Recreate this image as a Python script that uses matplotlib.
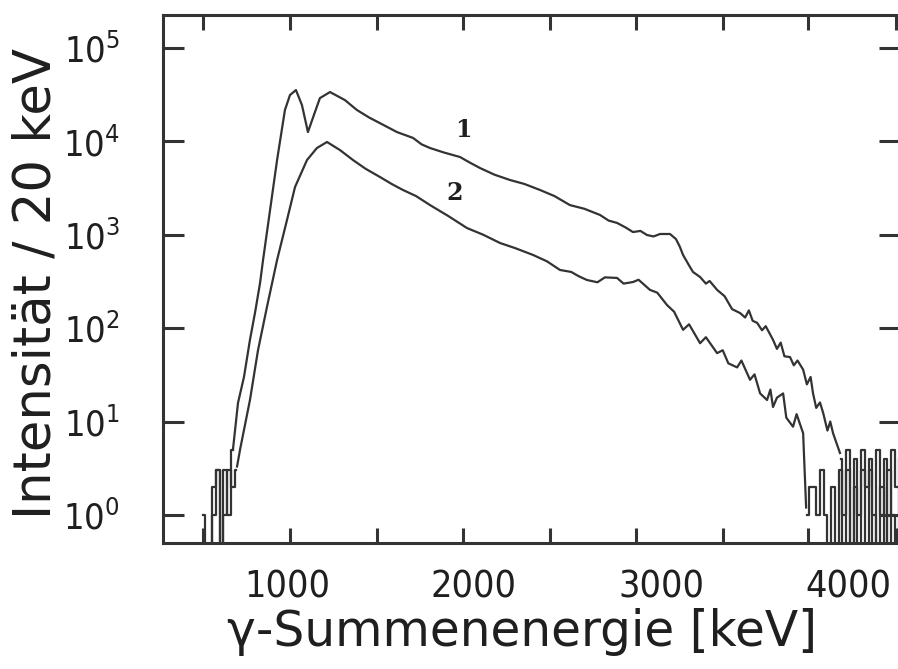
"""
Gamma sum-energy spectra (two runs) on a log intensity scale.
"""

import matplotlib

matplotlib.use("Agg")
import matplotlib.pyplot as plt
import matplotlib.ticker as mticker

# Spectrum 1 (upper curve): energy in keV, counts per 20 keV
energy_1 = [711, 738, 770, 802, 830, 856, 872, 947, 989, 1016, 1048, 1080,
            1112, 1144, 1176, 1230, 1310, 1374, 1440, 1497, 1588, 1674, 1720,
            1765, 1840, 1925, 1980, 2032, 2110, 2193, 2270, 2353, 2430, 2513,
            2590, 2674, 2720, 2765, 2810, 2850, 2890, 2925, 2960, 2995, 3048,
            3080, 3100, 3118, 3150, 3171, 3209, 3240, 3260, 3300, 3340, 3380,
            3423, 3450, 3470, 3490, 3514, 3540, 3560, 3599, 3620, 3640, 3660,
            3690, 3710, 3730, 3760, 3780, 3800, 3813, 3830, 3850, 3867, 3890,
            3905, 3920, 3957]
counts_1 = [5.0, 15.8, 30, 75, 150, 305, 537, 6320, 21700, 31400, 35500, 24500,
            12600, 19200, 29100, 33800, 27700, 21700, 18000, 15700, 12600,
            10900, 9300, 8500, 7600, 6810, 5900, 5190, 4400, 3860, 3500, 3020,
            2600, 2080, 1900, 1630, 1420, 1340, 1200, 1070, 1100, 995, 960,
            1020, 1020, 900, 750, 608, 470, 400, 353, 300, 320, 257, 220, 160,
            145, 130, 155, 120, 114, 95, 105, 75, 60, 70, 50, 49, 40, 45, 36, 25,
            30, 20, 14, 16, 12.4, 8, 10, 7.5, 4.6]

# Spectrum 2 (lower curve)
energy_2 = [733, 749, 802, 845, 893, 947, 1000, 1043, 1107, 1160, 1214, 1283,
            1353, 1420, 1497, 1560, 1620, 1690, 1765, 1860, 1963, 2050, 2139,
            2220, 2316, 2390, 2460, 2520, 2560, 2604, 2660, 2700, 2765, 2800,
            2850, 2880, 2941, 2980, 3032, 3070, 3118, 3150, 3209, 3240, 3300,
            3330, 3360, 3407, 3430, 3476, 3500, 3530, 3567, 3585, 3599, 3620,
            3653, 3670, 3706, 3725, 3760, 3776]
counts_2 = [3.3, 5.0, 17, 58, 169, 537, 1440, 3250, 6320, 8500, 9860, 8090,
            6320, 5100, 4160, 3500, 3020, 2600, 2080, 1600, 1180, 1000, 817,
            720, 608, 520, 420, 400, 360, 328, 310, 350, 345, 300, 312, 330,
            257, 240, 177, 150, 96, 110, 69, 80, 54, 58, 42, 38, 45, 28, 32, 20,
            17, 22, 14.3, 18, 20, 11, 8.8, 12, 7.5, 1.2]

# Low-statistics channels (20 keV bins) at both ends of the spectra
low_energy_1 = [590, 610, 630, 650, 670, 690, 710]
low_counts_1 = [0, 2, 3, 0, 3, 1, 5]
low_energy_2 = [550, 570, 590, 610, 630, 650, 670, 690, 710, 730]
low_counts_2 = [1, 0, 0, 1, 3, 0, 1, 3, 2, 3]

tail_energy_1 = [3960, 3980, 4000, 4020, 4040, 4060, 4080, 4100, 4120, 4140,
                 4160, 4180, 4200, 4220, 4240, 4260, 4280]
tail_counts_1 = [4, 1, 5, 0, 4, 1, 5, 2, 4, 0, 5, 1, 4, 0, 5, 2, 4]
tail_energy_2 = [3780, 3800, 3820, 3840, 3860, 3880, 3900, 3920, 3940, 3960,
                 3980, 4000, 4020, 4040, 4060, 4080, 4100, 4120, 4140, 4160,
                 4180, 4200, 4220, 4240, 4260, 4280]
tail_counts_2 = [1, 2, 2, 1, 3, 1, 0, 2, 0, 3, 0, 3, 0, 2, 0, 3, 0, 3, 1, 0,
                 2, 0, 3, 1, 0, 2]

x_tick_labels = [1000, 2000, 3000, 4000]
y_tick_values = [1, 10, 100, 1000, 10000, 100000]
# tick marks on the frame, as drawn in the original (not at the label positions)
tick_marks_kev = [551, 1016, 1481, 1941, 2407, 2866, 3332, 3786, 4257]

curve_labels = [("1", 1941, 13200), ("2", 1898, 2800)]

ink = "#333333"
text_color = "#1f1f1f"

fig = plt.figure(figsize=(8.98, 6.69), dpi=100)
ax = fig.add_axes([163 / 898, 1 - 543 / 669, 737 / 898, 528 / 669])

# Main curves
ax.plot(energy_1, counts_1, color=ink, lw=1.6)
ax.plot(energy_2, counts_2, color=ink, lw=1.6)

# Noisy channels drawn as histogram steps
for e, c in [(low_energy_1, low_counts_1), (low_energy_2, low_counts_2),
             (tail_energy_1, tail_counts_1), (tail_energy_2, tail_counts_2)]:
    ax.step(e, c, where="mid", color=ink, lw=1.6)

ax.set_yscale("log", nonpositive="clip")
ax.set_xlim(337, 4278)
ax.set_ylim(0.5, 2.26e5)

for text, e, c in curve_labels:
    ax.text(e, c, text, fontsize=17, fontweight="bold", family="DejaVu Serif",
            ha="center", va="center", color=text_color)

# Axis frame and ticks
for spine in ax.spines.values():
    spine.set_linewidth(2.2)
    spine.set_color(ink)

ax.yaxis.set_major_locator(mticker.FixedLocator(y_tick_values))
ax.yaxis.set_major_formatter(mticker.FixedFormatter(
    [r"$\mathregular{10^{%d}}$" % i for i in range(len(y_tick_values))]))
ax.yaxis.set_minor_locator(mticker.NullLocator())
ax.tick_params(axis="y", which="major", direction="in", length=15, width=2.2,
               color=ink, left=True, right=True, labelsize=26, pad=31,
               labelcolor=text_color)

ax.xaxis.set_major_locator(mticker.FixedLocator(x_tick_labels))
ax.xaxis.set_major_formatter(mticker.FixedFormatter([str(v) for v in x_tick_labels]))
ax.xaxis.set_minor_locator(mticker.FixedLocator(tick_marks_kev))
ax.tick_params(axis="x", which="major", length=0, labelsize=27, pad=19,
               labelcolor=text_color)
ax.tick_params(axis="x", which="minor", direction="in", length=11, width=2.2,
               color=ink, bottom=True, top=True)

# narrow digits, as in the original lettering
for lbl in ax.get_xticklabels() + ax.get_yticklabels():
    lbl.set_fontstretch("condensed")

ax.set_xlabel("γ-Summenenergie [keV]", fontsize=35, color=text_color, va="center")
ax.xaxis.set_label_coords(0.487, -0.169)
ax.set_ylabel("Intensität / 20 keV", fontsize=37, color=text_color, va="center")
ax.yaxis.set_label_coords(-0.171, 0.492)

fig.savefig("out.png", dpi=100, facecolor="white")
